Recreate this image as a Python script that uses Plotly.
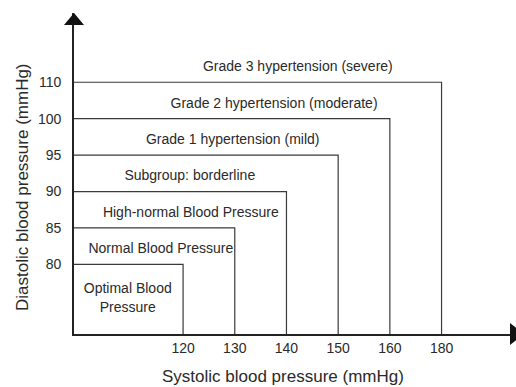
import plotly.graph_objects as go

# Blood pressure classification thresholds (mmHg)
systolic = [120, 130, 140, 150, 160, 180]
diastolic = [80, 85, 90, 95, 100, 110]
categories = [
    "Optimal Blood<br>Pressure",
    "Normal Blood Pressure",
    "High-normal Blood Pressure",
    "Subgroup: borderline",
    "Grade 1 hypertension (mild)",
    "Grade 2 hypertension (moderate)",
    "Grade 3 hypertension (severe)",
]
x_title = "Systolic blood pressure (mmHg)"
y_title = "Diastolic blood pressure (mmHg)"

# Ordinal axes: each threshold sits at its index; the origin lies before the first one
x_pos = list(range(len(systolic)))
y_pos = list(range(len(diastolic)))
x_range = [-2.11, 6.44]
y_range = [-1.91, 6.90]
x0, y0 = x_range[0], y_range[0]

# label placement (axis units)
label_x = [-1.07, -0.43, 0.15, 0.13, 0.96, 1.76, 2.22]
label_y = [-0.95] + [p + 0.40 for p in y_pos]

W, H = 516, 387
M = dict(l=74, r=0, t=13, b=53)
PW, PH = W - M["l"] - M["r"], H - M["t"] - M["b"]

INK = "#2a2a2a"
LINE = "#3a3a3a"
FONT = "Liberation Sans, Arial, sans-serif"

fig = go.Figure()

# nested threshold boxes: top edge then right edge down to the axis
for xi, yi in zip(x_pos, y_pos):
    fig.add_trace(go.Scatter(
        x=[x0, xi, xi], y=[yi, yi, y0], mode="lines",
        line=dict(color=LINE, width=1.2), hoverinfo="skip", showlegend=False,
    ))

fig.add_trace(go.Scatter(
    x=label_x, y=label_y, mode="text", text=categories,
    textposition="middle center",
    textfont=dict(family=FONT, size=14, color=INK),
    hoverinfo="skip", showlegend=False, cliponaxis=False,
))


def px(dx):
    return dx / PW


def py(dy):
    return dy / PH


# arrowheads at the ends of both axes
fig.add_shape(type="path", xref="paper", yref="paper",
              path=f"M {-px(10)},{1 - py(12)} L {px(10)},{1 - py(12)} L 0,1 Z",
              fillcolor="#111", line=dict(width=0))
fig.add_shape(type="path", xref="paper", yref="paper",
              path=f"M {1 - px(6)},{py(11)} L {1 - px(6)},{-py(11)} L {1 + px(8)},0 Z",
              fillcolor="#111", line=dict(width=0))

fig.add_annotation(text=x_title, xref="paper", yref="paper",
                   x=px(283 - M["l"]), y=-py(376 - (H - M["b"])),
                   xanchor="center", yanchor="middle", showarrow=False,
                   font=dict(family=FONT, size=17, color=INK))
fig.add_annotation(text=y_title, xref="paper", yref="paper",
                   x=-px(M["l"] - 22), y=py((H - M["b"]) - 187),
                   xanchor="center", yanchor="middle", textangle=-90, showarrow=False,
                   font=dict(family=FONT, size=17, color=INK))

fig.update_layout(
    width=W, height=H, margin=M,
    paper_bgcolor="white", plot_bgcolor="white",
    xaxis=dict(range=x_range, tickvals=x_pos, ticktext=[str(v) for v in systolic],
               showgrid=False, zeroline=False, showline=True, linecolor="#222",
               linewidth=1.6, ticks="", tickfont=dict(family=FONT, size=14, color=INK)),
    yaxis=dict(range=y_range, tickvals=y_pos, ticktext=[str(v) for v in diastolic],
               showgrid=False, zeroline=False, showline=True, linecolor="#222",
               linewidth=1.6, ticks="", ticklabelstandoff=8,
               tickfont=dict(family=FONT, size=14, color=INK)),
)

fig.write_html("out.html")
